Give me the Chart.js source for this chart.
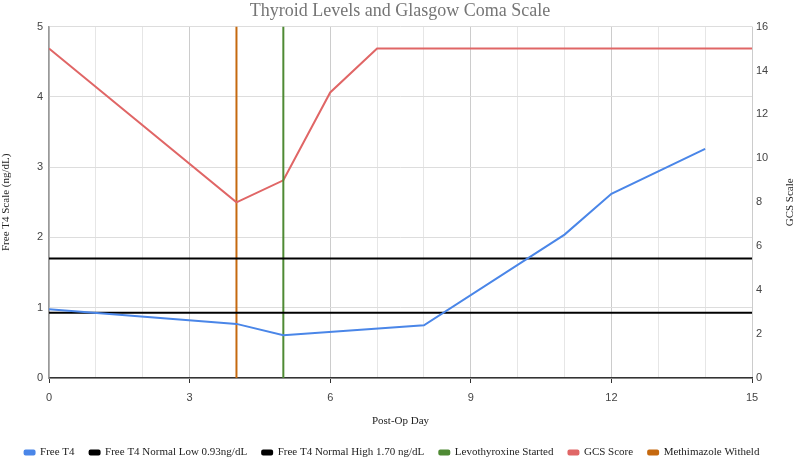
<!DOCTYPE html>
<html>
<head>
<meta charset="utf-8">
<script src="https://cdn.jsdelivr.net/npm/chart.js@4"></script>
<style>
  html, body { margin: 0; padding: 0; background: #fff; }
  #wrap { width: 800px; height: 458px; position: relative; }
</style>
</head>
<body>
<div id="wrap"><canvas id="c"></canvas></div>
<script>
// ---- data ----
const freeT4Days = [0, 4, 5, 8, 11, 12, 14];
const freeT4Values = [0.98, 0.77, 0.61, 0.75, 2.04, 2.62, 3.26];
const gcsDays = [0, 4, 5, 6, 7, 15];
const gcsValues = [15, 8, 9, 13, 15, 15];
const normalLowValue = 0.93;
const normalHighValue = 1.70;
const levothyroxineDay = 5;
const methimazoleDay = 4;
const dayRange = [0, 15];
const t4Range = [0, 5];
const gcsRange = [0, 16];
const seriesNames = ['Free T4', 'Free T4 Normal Low 0.93ng/dL', 'Free T4 Normal High 1.70 ng/dL', 'Levothyroxine Started', 'GCS Score', 'Methimazole Witheld'];
const rightAxisTitle = 'GCS Scale';

const pts = (xs, ys) => xs.map((x, i) => ({x, y: ys[i]}));
const hline = v => pts(dayRange, [v, v]);
const vline = d => pts([d, d], t4Range);

const SERIF = '"Liberation Serif", "Times New Roman", serif';
const SANS = '"Liberation Sans", Arial, sans-serif';

const mk = (label, data, color, axis, order) => ({
  label, data, borderColor: color, backgroundColor: color,
  borderWidth: 2, pointRadius: 0, pointHoverRadius: 0, tension: 0,
  yAxisID: axis, order
});

// legend nudge + right-axis title drawn bottom-to-top (like the reference)
const rightTitle = {
  id: 'rightTitle',
  afterLayout(chart) {
    const lg = chart.legend;
    if (lg) { lg.top += 10; lg.bottom += 10; lg.left -= 8; lg.right -= 8; }
  },
  afterDraw(chart) {
    const s = chart.scales.y1, ctx = chart.ctx;
    ctx.save();
    ctx.translate(790, (s.top + s.bottom) / 2);
    ctx.rotate(-Math.PI / 2);
    ctx.fillStyle = '#222';
    ctx.font = '11px ' + SERIF;
    ctx.textAlign = 'center';
    ctx.textBaseline = 'middle';
    ctx.fillText(rightAxisTitle, 0, 0);
    ctx.restore();
  }
};

new Chart(document.getElementById('c'), {
  type: 'line',
  data: {
    datasets: [
      mk(seriesNames[0], pts(freeT4Days, freeT4Values), '#4a86e8', 'y', 1),
      mk(seriesNames[1], hline(normalLowValue), '#000000', 'y', 2),
      mk(seriesNames[2], hline(normalHighValue), '#000000', 'y', 3),
      mk(seriesNames[3], vline(levothyroxineDay), '#4f8a34', 'y', 4),
      mk(seriesNames[4], pts(gcsDays, gcsValues), '#e06666', 'y1', 5),
      mk(seriesNames[5], vline(methimazoleDay), '#c5690f', 'y', 6)
    ]
  },
  plugins: [rightTitle],
  options: {
    responsive: true,
    maintainAspectRatio: false,
    animation: false,
    layout: { padding: 0 },
    plugins: {
      title: {
        display: true,
        text: 'Thyroid Levels and Glasgow Coma Scale',
        color: '#757575',
        font: { family: SERIF, size: 18, weight: 'normal' },
        padding: { top: 0, bottom: 5 }
      },
      legend: {
        position: 'bottom',
        labels: {
          color: '#222',
          font: { family: SERIF, size: 11 },
          boxWidth: 10,
          boxHeight: 4,
          padding: 15,
          useBorderRadius: true,
          borderRadius: 1
        }
      },
      tooltip: { enabled: false }
    },
    scales: {
      x: {
        type: 'linear',
        min: dayRange[0], max: dayRange[1],
        ticks: {
          stepSize: 1,
          autoSkip: false,
          maxRotation: 0,
          color: '#444',
          font: { family: SANS, size: 11 },
          padding: 8,
          callback: v => (v % 3 === 0 ? String(v) : '')
        },
        grid: {
          color: c => (c.tick && c.tick.value % 3 === 0 ? '#cccccc' : '#e6e6e6'),
          tickColor: c => (c.tick && c.tick.value % 3 === 0 ? '#333' : 'rgba(0,0,0,0)'),
          tickLength: 5
        },
        border: { color: '#333', width: 1.5 },
        title: {
          display: true, text: 'Post-Op Day', color: '#222',
          font: { family: SERIF, size: 11 }, padding: { top: 8, bottom: -6 }
        },
        afterFit: s => { s.height = 44; }
      },
      y: {
        position: 'left',
        min: t4Range[0], max: t4Range[1],
        ticks: { stepSize: 1, color: '#444', font: { family: SANS, size: 11 }, padding: 6 },
        grid: { color: '#dddddd', drawTicks: false },
        border: { color: '#999', width: 1.5 },
        title: {
          display: true, text: 'Free T4 Scale (ng/dL)', color: '#222',
          font: { family: SERIF, size: 11 }, padding: 0
        },
        afterFit: s => { s.width = 49; }
      },
      y1: {
        position: 'right',
        min: gcsRange[0], max: gcsRange[1],
        ticks: { stepSize: 2, color: '#444', font: { family: SANS, size: 11 }, padding: 4 },
        grid: { display: false, drawTicks: false },
        border: { display: false },
        title: { display: false },
        afterFit: s => { s.width = 48; }
      }
    }
  }
});
</script>
</body>
</html>
